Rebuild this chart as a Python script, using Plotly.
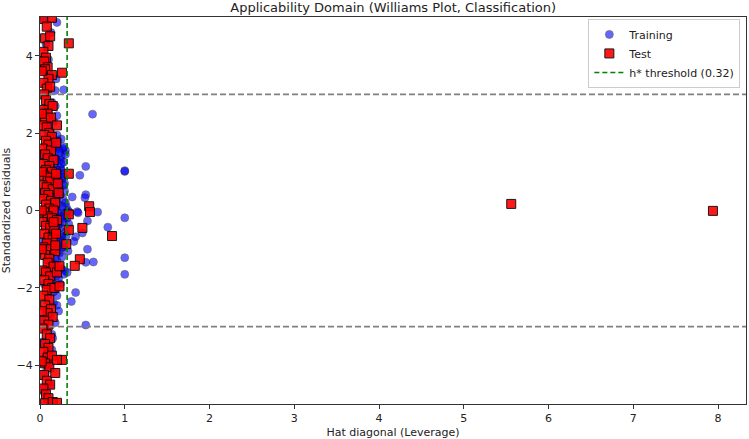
import plotly.graph_objects as go

# ---- data ----
train_hat = [
    0.12, 0.15, 0.18, 0.22, 0.25, 0.20, 0.17, 0.24, 0.28, 0.14, 0.21, 0.26, 0.19, 0.23, 0.29, 0.16, 0.27, 0.30,
    0.22, 0.18, 0.25, 0.29, 0.20, 0.27, 0.15, 0.24, 0.30, 0.19, 0.26, 0.22, 0.28, 0.17, 0.23, 0.26, 0.20, 0.14,
    0.25, 0.18, 0.22, 0.12, 0.16,
    0.31, 0.33, 0.35, 0.32, 0.34, 0.31, 0.33, 0.30, 0.27, 0.29, 0.32,
    0.25, 0.28, 0.30, 0.24,
    0.08, 0.10, 0.14, 0.09, 0.12, 0.10, 0.07, 0.13, 0.05, 0.20, 0.18, 0.28, 0.16, 0.20, 0.11,
    0.10, 0.16, 0.20, 0.13, 0.09, 0.15, 0.08, 0.11, 0.06, 0.12, 0.05, 0.10, 0.20, 0.18, 0.14, 0.07, 0.04,
    0.02, 0.03, 0.04, 0.05, 0.06, 0.03, 0.04, 0.02,
    0.10, 0.12, 0.13, 0.11, 0.09, 0.16, 0.14, 0.17, 0.19, 0.21, 0.23, 0.13, 0.15, 0.20, 0.24, 0.26, 0.28, 0.21,
    0.18, 0.25,
    0.09, 0.11, 0.13, 0.15, 0.17, 0.19, 0.21, 0.23, 0.25, 0.27, 0.10, 0.12, 0.14, 0.16, 0.18, 0.20, 0.22, 0.24,
    0.26, 0.28, 0.11, 0.13, 0.15, 0.17, 0.19, 0.21, 0.23, 0.25, 0.27, 0.29, 0.12, 0.16, 0.20, 0.24, 0.18, 0.22,
    0.26, 0.14, 0.19, 0.23,
    0.62, 0.54, 0.47, 1.00, 1.00, 1.00, 1.00, 1.00, 0.80, 0.68, 0.56, 0.63, 0.54, 0.42, 0.37, 0.54, 0.54, 0.53,
    0.38, 0.56, 0.44, 0.45, 0.50, 0.42, 0.40, 0.28,
]
train_res = [
    1.90, 1.70, 1.55, 1.60, 1.40, 1.30, 1.20, 1.10, 1.25, 1.00, 0.90, 0.80, 0.70, 0.60, 0.50, 0.45, 0.30, 0.20,
    0.15, 0.05, -0.05, -0.10, -0.20, -0.30, -0.35, -0.45, -0.55, -0.60, -0.70, -0.80, -0.90, -1.00, -1.10, -1.20,
    -1.30, -1.40, -1.50, -1.60, -1.75, -1.85, -1.95,
    0.10, 0.00, -0.05, -0.20, -0.35, -0.65, -1.05, 1.55, 1.60, -1.55, -1.60,
    1.85, 1.65, 1.45, 1.30,
    2.20, 2.50, 2.80, 3.20, 3.50, 3.90, 4.30, 4.60, 4.97, 4.86, 3.10, 3.12, 2.30, 2.45, 2.10,
    -2.20, -2.40, -2.45, -2.70, -3.00, -3.30, -3.70, -4.00, -4.20, -4.50, -4.70, -4.90, -2.20, -2.90, -3.60,
    -4.00, -4.60,
    0.50, -0.80, 1.40, -1.90, 2.60, -2.80, 3.60, -3.40,
    0.30, -0.50, 0.80, -1.20, 1.50, -0.90, 0.20, -0.10, 0.35, -0.40, 0.95, -1.70, 1.85, 1.95, -1.90, -0.15,
    0.65, 0.45, -1.25, 1.05,
    1.75, 1.45, 1.15, 0.85, 0.55, 0.25, -0.05, -0.35, -0.65, -0.95, -1.30, -1.55, -1.85, 1.65, 1.35, 1.05,
    0.75, 0.40, 0.10, -0.20, -0.50, -0.80, -1.10, -1.40, -1.70, 1.80, 1.50, 1.20, 0.95, 0.70, 2.05, -2.10,
    0.55, -1.00, 2.70, -2.60, 0.85, -3.20, 3.40, -0.75,
    2.49, 1.14, 0.91, 1.01, 1.03, -0.19, -1.22, -1.65, -0.43, -0.04, -1.00, -1.33, -1.34, -2.12, -2.35, -2.96,
    0.41, 0.33, 0.35, -0.27, -0.03, -0.06, -0.58, -0.68, -0.80, -1.65,
]

test_hat = [
    0.05, 0.14, 0.08, 0.06, 0.12, 0.10, 0.04, 0.07, 0.05, 0.09, 0.06, 0.14, 0.10, 0.04, 0.08, 0.12, 0.05, 0.07,
    0.11, 0.15, 0.04, 0.09, 0.06, 0.13, 0.03, 0.08, 0.11, 0.05, 0.14, 0.07, 0.10, 0.03, 0.13, 0.06, 0.09, 0.16,
    0.04, 0.11, 0.07, 0.14, 0.05, 0.09, 0.12, 0.03, 0.08, 0.15, 0.06, 0.10, 0.04, 0.13, 0.18, 0.07, 0.11, 0.16,
    0.05, 0.09, 0.14, 0.20, 0.03, 0.07, 0.12, 0.17, 0.05, 0.10, 0.15, 0.08, 0.04, 0.13, 0.18, 0.06, 0.11, 0.09,
    0.16, 0.03, 0.07, 0.12, 0.05, 0.10, 0.14, 0.08, 0.04, 0.11, 0.06, 0.13, 0.09, 0.15, 0.05, 0.10, 0.03, 0.08,
    0.12, 0.06, 0.10, 0.04, 0.09, 0.14, 0.06, 0.11, 0.05, 0.08, 0.12, 0.04, 0.07, 0.10, 0.06, 0.15, 0.20,
    0.02, 0.02, 0.02, 0.02, 0.02, 0.02, 0.02, 0.19, 0.20, 0.17, 0.19, 0.21, 0.18, 0.20, 0.22, 0.16, 0.19,
    0.34, 0.26, 0.34, 0.58, 0.59, 0.50, 0.85, 0.47, 0.41, 0.34, 0.34, 0.31, 0.23, 0.23, 0.26, 0.18, 0.20,
    5.56, 7.94,
]
test_res = [
    4.95, 4.98, 4.75, 4.45, 4.50, 4.25, 4.10, 3.95, 3.85, 3.70, 3.65, 3.50, 3.40, 3.30, 3.15, 3.20, 3.00, 2.85,
    2.75, 2.70, 2.60, 2.50, 2.35, 2.40, 2.20, 2.15, 2.00, 1.95, 1.90, 1.80, 1.70, 1.60, 1.55, 1.45, 1.35, 1.30,
    1.20, 1.15, 1.05, 1.00, 0.90, 0.85, 0.75, 0.65, 0.60, 0.55, 0.45, 0.40, 0.30, 0.25, 0.20, 0.15, 0.05, 0.00,
    -0.05, -0.15, -0.20, -0.25, -0.30, -0.40, -0.45, -0.50, -0.60, -0.70, -0.75, -0.85, -0.95, -1.00, -1.05,
    -1.15, -1.25, -1.35, -1.45, -1.55, -1.60, -1.70, -1.80, -1.90, -2.00, -2.05, -2.20, -2.30, -2.45, -2.55,
    -2.65, -2.75, -2.85, -2.95, -3.05, -3.20, -3.30, -3.45, -3.55, -3.65, -3.80, -3.75, -3.95, -4.05, -4.25,
    -4.40, -4.50, -4.60, -4.75, -4.85, -4.98, -4.95, -4.97,
    1.00, -1.00, 0.00, 2.50, -2.60, 3.60, -3.90, 1.75, -1.60, -2.00, 0.95, 0.70, -0.90, 2.20, 0.45, -0.30, -0.60,
    4.32, 3.56, 0.95, 0.11, -0.04, -0.45, -0.66, -1.26, -1.43, -0.50, -0.10, -0.87, -1.44, -1.96, -3.86, -4.20,
    -3.86,
    0.17, -0.01,
]

h_star = 0.32
res_limit = 3.0
x_ticks = [0, 1, 2, 3, 4, 5, 6, 7, 8]
y_ticks = [-4, -2, 0, 2, 4]

FONT = "DejaVu Sans"

fig = go.Figure()
fig.add_trace(go.Scatter(
    x=train_hat, y=train_res, mode="markers", name="Training",
    marker=dict(symbol="circle", size=8, color="blue", opacity=0.6,
                line=dict(color="black", width=0.6)),
))
fig.add_trace(go.Scatter(
    x=test_hat, y=test_res, mode="markers", name="Test",
    marker=dict(symbol="square", size=9, color="red", opacity=0.9,
                line=dict(color="black", width=1)),
))
fig.add_trace(go.Scatter(
    x=[h_star, h_star], y=[-5, 5], mode="lines", name="h* threshold (0.32)",
    line=dict(color="green", width=1.6, dash="5px,3px"),
))
for yv in (res_limit, -res_limit):
    fig.add_shape(type="line", xref="paper", x0=0, x1=1, yref="y", y0=yv, y1=yv,
                  line=dict(color="gray", width=1.6, dash="6px,3px"), layer="above")

axis_common = dict(showline=True, mirror=True, linecolor="#333", linewidth=1,
                   showgrid=False, zeroline=False, ticks="outside", ticklen=4,
                   tickcolor="#333", tickfont=dict(family=FONT, size=11, color="#222"))
fig.update_xaxes(range=[0, 8.33], tickvals=x_ticks, **axis_common,
                 title=dict(text="Hat diagonal (Leverage)", font=dict(family=FONT, size=11, color="#222"),
                            standoff=4))
fig.update_yaxes(range=[-5, 5], tickvals=y_ticks, **axis_common,
                 title=dict(text="Standardized residuals", font=dict(family=FONT, size=11, color="#222"),
                            standoff=4))

fig.update_layout(
    width=749, height=439,
    margin=dict(l=40, r=2, t=17, b=33),
    paper_bgcolor="white", plot_bgcolor="white",
    title=dict(text="Applicability Domain (Williams Plot, Classification)",
               font=dict(family=FONT, size=13, color="#222"),
               x=0.525, xanchor="center", y=1 - 7 / 439, yanchor="middle"),
    legend=dict(x=0.992, xanchor="right", y=0.995, yanchor="top",
                bgcolor="white", bordercolor="#ccc", borderwidth=1, itemwidth=30,
                font=dict(family=FONT, size=11, color="#222"), tracegroupgap=0),
    showlegend=True,
    font=dict(family=FONT),
)

fig.write_html("out.html")
